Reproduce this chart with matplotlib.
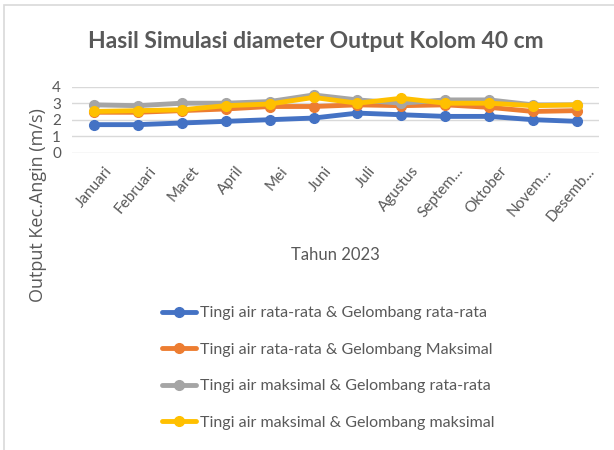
import matplotlib
matplotlib.use('Agg')
import matplotlib.pyplot as plt
from matplotlib.patches import Rectangle
from matplotlib.transforms import ScaledTranslation

bulan = ['Januari', 'Februari', 'Maret', 'April', 'Mei', 'Juni', 'Juli',
         'Agustus', 'Septem...', 'Oktober', 'Novem...', 'Desemb...']

rata_rata = [1.7, 1.7, 1.8, 1.9, 2.0, 2.1, 2.4, 2.3, 2.2, 2.2, 2.0, 1.9]
rata_maks = [2.45, 2.45, 2.55, 2.65, 2.8, 2.8, 2.9, 2.85, 2.9, 2.75, 2.5, 2.55]
maks_rata = [2.9, 2.85, 3.0, 3.0, 3.1, 3.5, 3.2, 3.0, 3.2, 3.2, 2.9, 2.9]
maks_maks = [2.5, 2.55, 2.6, 2.85, 2.95, 3.35, 3.0, 3.3, 3.0, 3.0, 2.85, 2.9]

labels = ['Tingi air rata-rata & Gelombang rata-rata',
          'Tingi air rata-rata & Gelombang Maksimal',
          'Tingi air maksimal & Gelombang rata-rata',
          'Tingi air maksimal & Gelombang maksimal']
colors = ['#4472C4', '#ED7D31', '#A5A5A5', '#FFC000']

plt.rcParams['font.family'] = ['Lato', 'DejaVu Sans']
txt = '#595959'

fig = plt.figure(figsize=(6.14, 4.5), dpi=100)
ax = fig.add_axes([72 / 614, 1 - 152.7 / 450, (599 - 72) / 614, (152.7 - 86.7) / 450])

x = list(range(len(bulan)))
for ys, c, lab in zip([rata_rata, rata_maks, maks_rata, maks_maks], colors, labels):
    ax.plot(x, ys, color=c, lw=3.5, marker='o', ms=7, label=lab, solid_capstyle='round')

ax.set_xlim(-0.5, len(bulan) - 0.5)
ax.set_ylim(0, 4)
ax.set_yticks([0, 1, 2, 3, 4])
ax.grid(axis='y', color='#D9D9D9', lw=1)
ax.set_axisbelow(True)
for s in ax.spines.values():
    s.set_visible(False)
ax.tick_params(length=0, colors=txt, labelsize=11)
ax.tick_params(axis='y', pad=8)
ax.set_xticks(x)
ax.set_xticklabels(bulan, rotation=50, ha='right', va='top', rotation_mode='anchor')
ax.tick_params(axis='x', pad=8)
shift = ScaledTranslation(10 / 100, 0, fig.dpi_scale_trans)
for t in ax.get_xticklabels():
    t.set_transform(t.get_transform() + shift)

fig.text(335.5 / 614, 1 - 255 / 450, 'Tahun 2023', color=txt, fontsize=12,
         ha='center', va='center')
fig.text(38 / 614, 1 - 205 / 450, 'Output Kec.Angin (m/s)', rotation=90, color=txt,
         fontsize=13, ha='center', va='center', family=['Open Sans', 'DejaVu Sans'])
fig.text(316 / 614, 1 - 42 / 450, 'Hasil Simulasi diameter Output Kolom 40 cm',
         color=txt, fontsize=16.5, fontweight='bold', ha='center', va='center')

fig.legend(loc='center left', bbox_to_anchor=(162 / 614, 1 - 368 / 450), frameon=False,
           fontsize=11.5, handlelength=2.1, handletextpad=0.3, labelspacing=1.4,
           borderaxespad=0, borderpad=0, labelcolor=txt)

fig.patches.append(Rectangle((4 / 614, -0.1), 1.2, 1 - 5 / 450 + 0.1, transform=fig.transFigure,
                             fill=False, edgecolor='#D9D9D9', lw=1.2))

fig.savefig('out.png', dpi=100)
